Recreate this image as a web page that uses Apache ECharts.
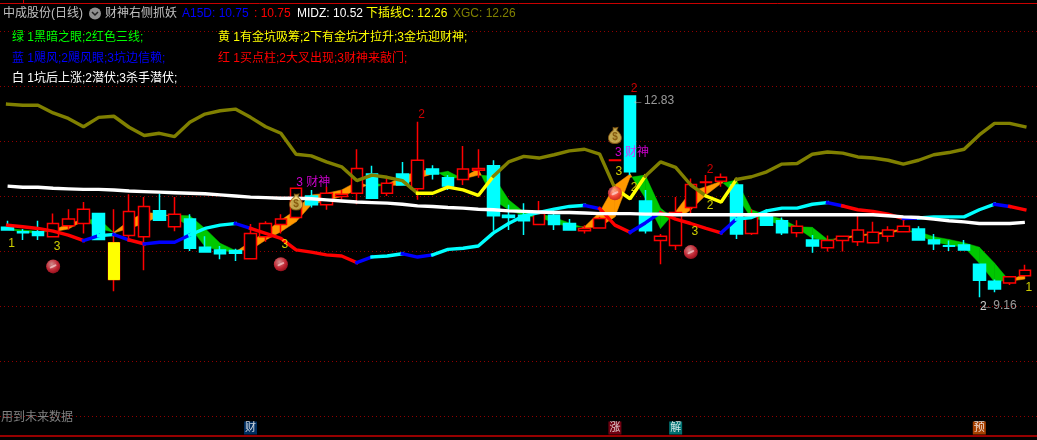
<!DOCTYPE html>
<html><head><meta charset="utf-8">
<style>html,body{margin:0;padding:0;background:#000}#c{width:1037px;height:440px}</style>
<script src="https://cdn.jsdelivr.net/npm/echarts@6/dist/echarts.min.js"></script>
</head><body><div id="c"></div>
<script>
const opens  = [10.43,10.35,10.35,10.26,10.46,10.50,10.68,10.15,10.28,10.26,10.73,10.44,10.58,10.07,10.02,10.01,9.86,10.26,10.48,10.61,11.00,10.84,10.99,11.05,11.40,11.05,11.40,11.13,11.49,11.33,11.30,11.47,11.55,10.65,10.65,10.48,10.65,10.50,10.37,10.42,11.645,12.82,10.91,10.19,10.10,10.79,11.245,11.27,11.20,10.32,10.65,10.55,10.33,10.20,10.06,10.19,10.17,10.15,10.27,10.35,10.40,10.20,10.095,10.11,9.76,9.45,9.42,9.55];
const closes = [10.38,10.33,10.28,10.50,10.58,10.76,10.21,9.48,10.72,10.81,10.56,10.67,10.05,9.98,9.95,9.96,10.32,10.50,10.58,11.14,10.84,11.05,11.03,11.50,10.96,11.23,11.20,11.65,11.40,11.18,11.49,11.50,10.64,10.61,10.55,10.68,10.48,10.38,10.41,10.59,11.655,11.44,10.37,10.27,10.70,11.21,11.255,11.34,10.31,10.62,10.47,10.33,10.45,10.09,10.19,10.27,10.38,10.34,10.38,10.45,10.20,10.13,10.085,10.02,9.47,9.31,9.53,9.65];
const lows   = [10.38,10.20,10.20,10.26,10.39,10.32,10.21,9.27,10.17,9.65,10.56,10.36,10.00,9.98,9.85,9.82,9.86,10.17,10.32,10.61,10.79,10.75,10.93,10.85,10.96,11.00,11.20,10.93,11.30,11.11,11.20,11.33,10.37,10.38,10.29,10.48,10.38,10.38,10.32,10.42,11.645,11.38,10.32,9.76,10.02,10.69,10.99,11.17,10.22,10.29,10.47,10.29,10.25,9.97,9.99,9.99,10.09,10.15,10.17,10.35,10.20,10.02,10.00,10.02,9.16,9.25,9.38,9.55];
const highs  = [10.55,10.40,10.55,10.68,10.76,10.89,10.68,10.76,11.03,10.98,11.04,10.98,10.67,10.27,10.09,10.04,10.49,10.54,10.67,11.14,11.11,11.17,11.11,11.85,11.55,11.36,11.62,12.35,11.56,11.38,11.91,11.85,11.65,10.84,10.87,10.91,10.71,10.58,10.47,10.62,11.655,12.83,11.11,10.31,10.98,11.32,11.38,11.41,11.20,10.76,10.76,10.61,10.56,10.29,10.28,10.28,10.64,10.53,10.45,10.58,10.45,10.31,10.19,10.20,9.76,9.48,9.53,9.75];
const specialCandleIndex = 7;

const a15d = [10.47,10.44,10.41,10.36,10.29,10.19,10.28,10.30,10.20,10.13,10.16,10.16,10.29,10.41,10.47,10.50,10.41,10.32,10.23,10.02,9.98,9.93,9.91,9.79,9.89,9.91,9.95,9.89,9.93,10.03,10.05,10.09,10.33,10.50,10.64,10.70,10.76,10.81,10.83,10.77,10.47,10.34,10.51,10.70,10.58,10.50,10.41,10.33,10.58,10.61,10.73,10.78,10.78,10.85,10.88,10.82,10.75,10.72,10.67,10.59,10.60,10.62,10.62,10.62,10.75,10.85,10.81,10.75];
const a15dSegments = 'rrrrrbcbrbbbcccbrrrrrrrbccbbccccccccccbrrbbrrrrbccccccbrrrrbcccccbr';
const midz = [11.18,11.16,11.16,11.14,11.13,11.12,11.12,11.11,11.09,11.08,11.07,11.06,11.05,11.04,11.02,11.00,10.98,10.97,10.96,10.96,10.95,10.93,10.91,10.89,10.88,10.87,10.85,10.82,10.81,10.79,10.78,10.76,10.75,10.73,10.72,10.71,10.70,10.70,10.69,10.68,10.68,10.68,10.67,10.67,10.66,10.66,10.66,10.66,10.66,10.66,10.66,10.66,10.66,10.66,10.66,10.66,10.66,10.66,10.64,10.62,10.61,10.58,10.55,10.53,10.50,10.50,10.50,10.52];
const xgc = [12.67,12.65,12.65,12.51,12.41,12.26,12.43,12.45,12.25,12.10,12.14,12.08,12.34,12.49,12.55,12.58,12.43,12.26,12.14,11.76,11.73,11.62,11.53,11.28,11.38,11.34,11.28,11.05,11.05,11.16,11.11,11.01,11.36,11.62,11.72,11.69,11.75,11.82,11.85,11.76,11.14,10.95,11.36,11.62,11.52,11.20,11.00,10.89,11.30,11.35,11.44,11.58,11.59,11.76,11.80,11.78,11.71,11.69,11.65,11.58,11.65,11.75,11.79,11.85,12.11,12.32,12.32,12.26];
const xgcSegments = 'oooooooooooooooooooooooooooyyyyyooooooooyyooooyyooooooooooooooooooo';

const bandTop    = [10.41,10.38,10.36,10.38,10.49,10.58,10.59,10.34,10.55,10.70,10.68,10.65,10.64,10.41,10.14,10.01,10.17,10.35,10.56,10.75,11.02,11.05,11.11,11.26,11.24,11.21,11.36,11.44,11.49,11.45,11.34,11.49,11.36,10.93,10.71,10.68,10.61,10.51,10.44,10.71,11.20,11.40,11.38,10.78,10.72,11.08,11.17,11.27,11.29,10.75,10.65,10.58,10.44,10.43,10.21,10.25,10.29,10.32,10.35,10.41,10.35,10.26,10.21,10.15,10.07,9.78,9.47,9.58];
const bandBottom = [10.39,10.35,10.32,10.35,10.40,10.55,10.41,10.33,10.41,10.50,10.64,10.62,10.44,10.08,10.01,9.98,10.02,10.20,10.35,10.53,10.84,10.92,10.99,11.11,11.16,11.19,11.20,11.32,11.40,11.32,11.31,11.38,10.93,10.75,10.64,10.61,10.52,10.43,10.42,10.44,10.62,11.34,10.96,10.41,10.56,10.75,11.02,11.23,11.02,10.59,10.56,10.47,10.42,10.23,10.19,10.22,10.27,10.30,10.32,10.38,10.29,10.17,10.11,10.07,9.78,9.44,9.45,9.49];
const bandKinds  = 'GGGOOOGOOOOGGGGGOOOOOOOOGOOOOGOOGGGGGGOOOOGGOOOOGGGGGGGOOOOOGGGGGGOO';

const legendItems = [
  ['中成股份(日线)', 3, 8, '#c0c0c0'],
  ['财神右侧抓妖', 105, 8, '#c0c0c0'],
  ['A15D: 10.75', 182, 8, '#0000ff'],
  [': 10.75', 254, 8, '#ff0000'],
  ['MIDZ: 10.52', 297, 8, '#ffffff'],
  ['下插线C: 12.26', 366, 8, '#ffff00'],
  ['XGC: 12.26', 453, 8, '#808000'],
  ['绿 1黑暗之眼;2红色三线;', 12, 30, '#00ff00'],
  ['黄 1有金坑吸筹;2下有金坑才拉升;3金坑迎财神;', 218, 30, '#ffff00'],
  ['蓝 1飓风;2飓风眼;3坑边信赖;', 12, 51, '#0000ff'],
  ['红 1买点柱;2大叉出现;3财神来敲门;', 218, 51, '#ff0000'],
  ['白 1坑后上涨;2潜伏;3杀手潜伏;', 12, 71, '#ffffff'],
  ['用到未来数据', 1, 410, '#808080']
];
// [candle index, price, text, colour]
const annotations = [
  [0,10.13,'1','#ffff00'],[3,10.07,'3','#ffff00'],[18,10.11,'3','#ffff00'],
  [20,11.25,'3 财神','#ff00ff'],[27,12.47,'2','#ff0000'],[41,12.95,'2','#ff0000'],
  [41,11.78,'3 财神','#ff00ff'],[40,11.44,'3','#ffff00'],[41,11.15,'2','#ffff00'],
  [45,10.35,'3','#ffff00'],[46,10.82,'2','#ffff00'],[46,11.47,'2','#ff0000'],
  [64,8.98,'2','#ffffff'],[67,9.33,'1','#ffff00']
];
const extremes = [[41,12.73,'←12.83'],[64,9.0,'←9.16']];
const ballPoints = [[3,9.72],[18,9.76],[40,11.05],[45,9.98]];
const bagPoints  = [[19,10.89],[40,12.1]];
const eventMarks = [[16,'财','#003a78'],[40,'涨','#8c0014'],[44,'解','#008c8c'],[64,'预','#d05000']];

const COLORS = {r:'#ff0000', b:'#0000ff', c:'#00ffff', o:'#808000', y:'#ffff00'};
const FONT = '"Liberation Sans","Noto Sans CJK SC",sans-serif';
const LINE_W = 3.4;
const pairs = (values, a, b) => values.map((v, i) => [i, v]).slice(a, b);

function lineRuns(values, segs) {
  const out = [];
  let s = 0;
  for (let k = 1; k <= segs.length; k++) {
    if (k === segs.length || segs[k] !== segs[s]) {
      out.push({type:'line', data:pairs(values, s, k + 1), showSymbol:false, silent:true, z:5,
        lineStyle:{width:LINE_W, color:COLORS[segs[s]], cap:'square'}, itemStyle:{color:COLORS[segs[s]]}});
      s = k;
    }
  }
  return out;
}

const bandData = opens.slice(0, -1).map((_, i) => [i]);
const bandSeries = {
  type:'custom', silent:true, z:1, clip:false, data:bandData, encode:{x:0},
  renderItem(params, api) {
    const i = api.value(0), j = i + 1;
    const sign = k => bandKinds[k] === 'O' ? 1 : -1;
    const poly = (pts, col) => ({type:'polygon', shape:{points:pts.map(p => api.coord(p))},
      style:{fill:col, stroke:col, lineWidth:0.5}});
    const col = k => bandKinds[k] === 'O' ? '#ff9900' : '#00c800';
    if (bandKinds[i] === bandKinds[j]) {
      return poly([[i,bandTop[i]],[j,bandTop[j]],[j,bandBottom[j]],[i,bandBottom[i]]], col(i));
    }
    const fi = sign(i) > 0 ? bandTop[i] : bandBottom[i], si = sign(i) > 0 ? bandBottom[i] : bandTop[i];
    const fj = sign(j) > 0 ? bandTop[j] : bandBottom[j], sj = sign(j) > 0 ? bandBottom[j] : bandTop[j];
    const t = (si - fi) / ((fj - fi) - (sj - si));
    const xc = i + t, yc = fi + t * (fj - fi);
    return {type:'group', children:[
      poly([[i,fi],[xc,yc],[i,si]], col(i)),
      poly([[xc,yc],[j,fj],[j,sj]], col(j))
    ]};
  }
};

const candleData = opens.map((o, i) => ({value:[i, o, closes[i], lows[i], highs[i]]}));
const candleSeries = {type:'candlestick', data:candleData, z:3, barWidth:12, silent:true,
  itemStyle:{color:'#000000', color0:'#00ffff', borderColor:'#ff0000', borderColor0:'#00ffff', borderWidth:1.5}};
candleData[specialCandleIndex].itemStyle = {color0:'#ffff00', borderColor0:'#ff0000'};
const specialSeries = {type:'candlestick', z:4, barWidth:12, silent:true,
  data:[[specialCandleIndex, opens[specialCandleIndex], closes[specialCandleIndex], closes[specialCandleIndex], opens[specialCandleIndex]]],
  itemStyle:{color:'#ffff00', color0:'#ffff00', borderColor:'#ffff00', borderColor0:'#ffff00', borderWidth:1}};

const annotationSeries = {type:'scatter', symbolSize:0, z:8, silent:true,
  data:annotations.map(a => ({value:[a[0], a[1]],
    label:{show:true, position:'inside', formatter:a[2], color:a[3], fontSize:12, fontFamily:FONT,
      offset:[a[2].length > 1 ? 2 : 4, 0]}}))};
const extremeSeries = {type:'scatter', symbolSize:0, z:8, silent:true,
  data:extremes.map(a => ({value:[a[0], a[1]],
    label:{show:true, position:'right', distance:2, formatter:a[2], color:'#c0c0c0', fontSize:12, fontFamily:FONT}}))};
const ballSeries = {type:'scatter', symbol:'circle', symbolSize:14, z:9, silent:true, data:ballPoints,
  itemStyle:{color:new echarts.graphic.RadialGradient(0.4,0.35,0.7,[
    {offset:0,color:'#ffb0b0'},{offset:0.6,color:'#f03040'},{offset:1,color:'#b01020'}])}};
const ballStreak = {type:'scatter', symbol:'roundRect', symbolSize:[7,2], symbolRotate:25, z:10, silent:true,
  data:ballPoints, itemStyle:{color:'#ffe8e8', opacity:0.6}};
const BAG = 'path://M8 0 L11 1 L16 0 L14 5 C19 9 22 14 22 18 C22 25 17 28 11 28 C5 28 0 25 0 18 C0 14 3 9 8 5 Z';
const bagSeries = {type:'scatter', symbol:BAG, symbolSize:[13,16], z:9, silent:true, data:bagPoints,
  itemStyle:{color:'#f0d060', borderColor:'#8a5a10', borderWidth:1},
  label:{show:true, position:'inside', offset:[0,2], formatter:'$', color:'#7a4a00', fontSize:10, fontWeight:'bold', fontFamily:FONT}};
const eventSeries = {type:'scatter', xAxisIndex:1, yAxisIndex:1, symbolSize:0, z:8, silent:true,
  data:eventMarks.map(e => ({value:[e[0], 0.5],
    label:{show:true, position:'inside', formatter:e[1], color:'#ffffff', fontSize:11, fontFamily:FONT,
      backgroundColor:e[2], padding:[1,1,1,1], lineHeight:11}}))};

const hiddenX = {type:'value', min:-0.5, max:67.8, axisLine:{show:false}, axisTick:{show:false}, axisLabel:{show:false}, splitLine:{show:false}};
const chart = echarts.init(document.getElementById('c'), null, {renderer:'canvas'});
chart.setOption({
  animation:false,
  backgroundColor:'#000000',
  title:legendItems.map(t => ({text:t[0], left:t[1], top:t[2] + (t[2] >= 30 ? 2 : 0), padding:0,
    textStyle:{color:t[3], fontSize:12, fontWeight:'normal', fontFamily:FONT}})),
  grid:[
    {left:-1.3, top:31, width:1038.3, height:385},
    {left:-1.3, top:420, width:1038.3, height:16}
  ],
  xAxis:[Object.assign({gridIndex:0}, hiddenX), Object.assign({gridIndex:1}, hiddenX)],
  yAxis:[
    {type:'value', gridIndex:0, min:7, max:14, interval:1, axisLine:{show:false}, axisTick:{show:false}, axisLabel:{show:false},
      splitLine:{show:true, lineStyle:{color:'#900000', width:1, type:[1,3]}}},
    {type:'value', gridIndex:1, min:0, max:1, axisLine:{show:false}, axisTick:{show:false}, axisLabel:{show:false}, splitLine:{show:false}}
  ],
  graphic:[
    {type:'line', shape:{x1:0,y1:3.5,x2:1037,y2:3.5}, style:{stroke:'#c80000',lineWidth:1}},
    {type:'line', shape:{x1:23.5,y1:0,x2:23.5,y2:4}, style:{stroke:'#c80000',lineWidth:1}},
    {type:'line', shape:{x1:0,y1:436,x2:1037,y2:436}, style:{stroke:'#c80000',lineWidth:1.5}},
    {type:'circle', shape:{cx:95,cy:13.5,r:6}, style:{fill:'#909090'}},
    {type:'polyline', shape:{points:[[92,12],[95,15],[98,12]]}, style:{stroke:'#202020',lineWidth:1.5,fill:null}}
  ],
  series:[bandSeries, candleSeries, specialSeries]
    .concat(lineRuns(xgc, xgcSegments))
    .concat(lineRuns(a15d, a15dSegments))
    .concat([{type:'line', data:pairs(midz, 0), showSymbol:false, silent:true, z:6, lineStyle:{width:LINE_W,color:'#ffffff'}}])
    .concat([annotationSeries, extremeSeries, ballSeries, ballStreak, bagSeries, eventSeries])
});
</script></body></html>
